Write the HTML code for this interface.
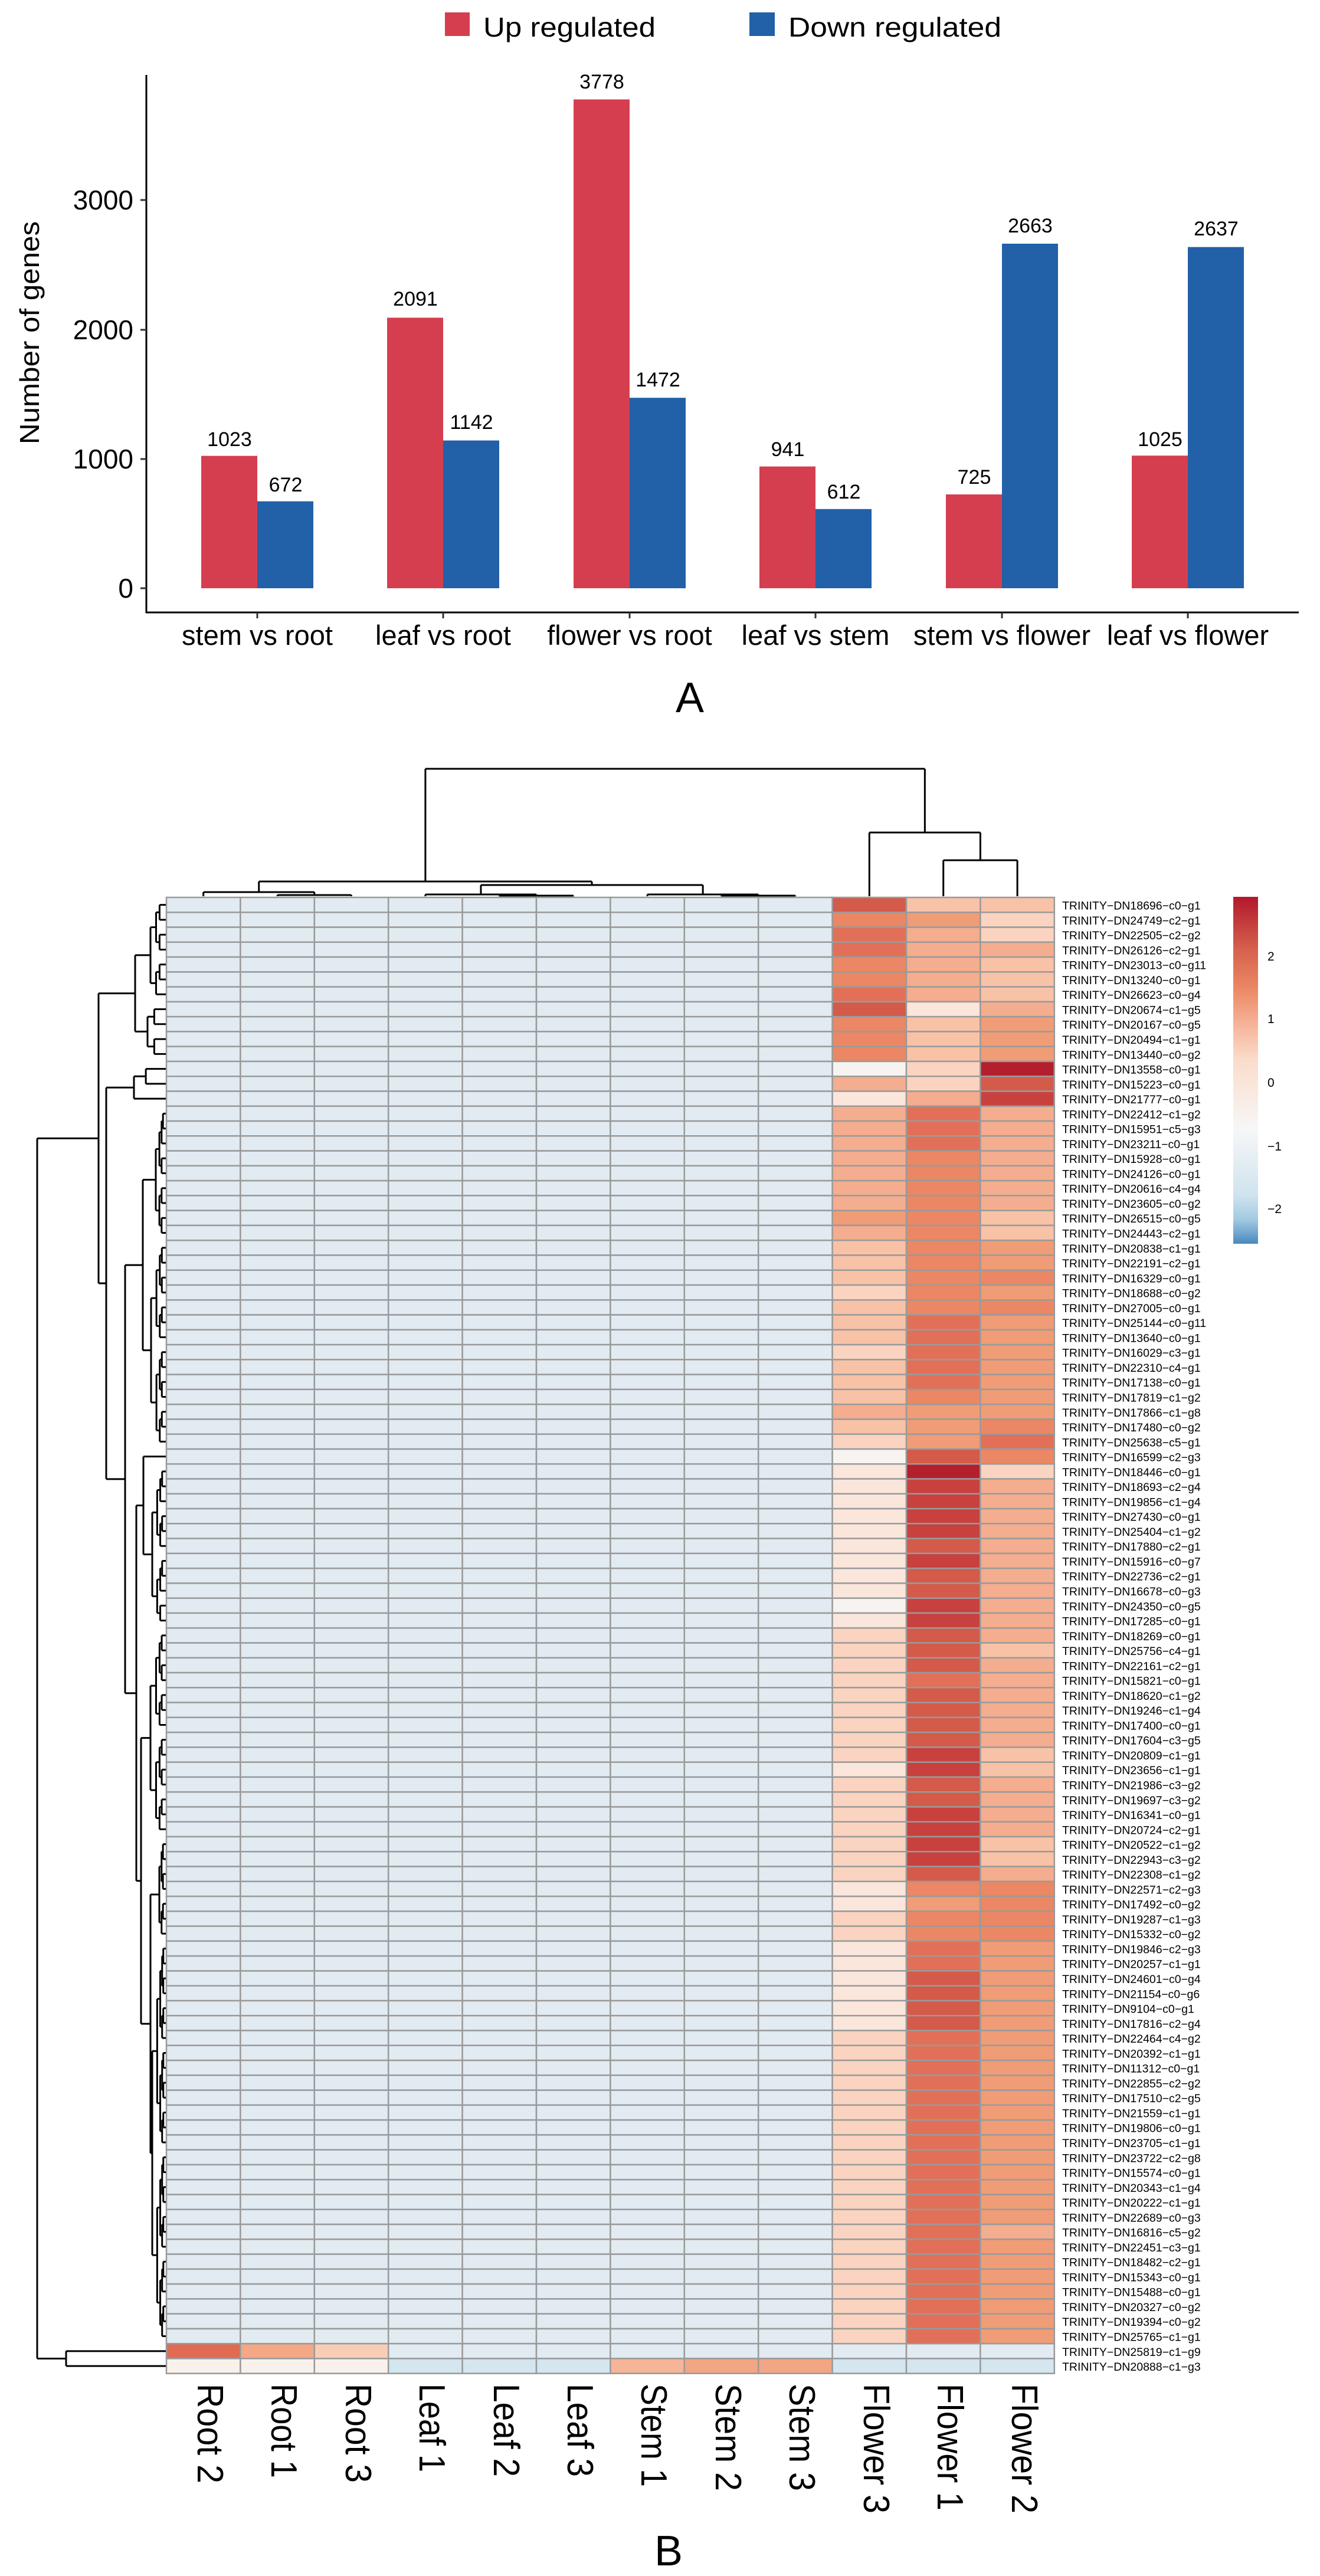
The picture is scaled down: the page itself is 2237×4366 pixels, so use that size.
<!DOCTYPE html>
<html><head><meta charset="utf-8"><style>
html,body{margin:0;padding:0;background:#fff;}
svg{display:block;font-family:"Liberation Sans",Arial,sans-serif;}
</style></head><body>
<svg id="s" width="2237" height="4366" viewBox="0 0 2237 4366" xmlns="http://www.w3.org/2000/svg">
<rect width="2237" height="4366" fill="#fff"/>
<!-- Legend -->
<rect x="754" y="21" width="42" height="40" fill="#D53E4F"/>
<text x="819" y="62" font-size="46" textLength="292" lengthAdjust="spacingAndGlyphs">Up regulated</text>
<rect x="1270" y="21" width="43" height="40" fill="#2260A7"/>
<text x="1336" y="62" font-size="46" textLength="361" lengthAdjust="spacingAndGlyphs">Down regulated</text>
<!-- axes -->
<g stroke="#000" stroke-width="3" fill="none">
<line x1="248" y1="127" x2="248" y2="1039"/>
<line x1="247" y1="1038" x2="2201" y2="1038"/>
</g>
<g stroke="#333" stroke-width="3">
<line x1="238" y1="997" x2="248" y2="997"/><line x1="238" y1="778" x2="248" y2="778"/>
<line x1="238" y1="559" x2="248" y2="559"/><line x1="238" y1="339" x2="248" y2="339"/>
<line x1="436" y1="1038" x2="436" y2="1048"/><line x1="751" y1="1038" x2="751" y2="1048"/>
<line x1="1067" y1="1038" x2="1067" y2="1048"/><line x1="1382" y1="1038" x2="1382" y2="1048"/>
<line x1="1698" y1="1038" x2="1698" y2="1048"/><line x1="2013" y1="1038" x2="2013" y2="1048"/>
</g>
<g font-size="46" text-anchor="end">
<text x="226" y="1013">0</text><text x="226" y="794">1000</text><text x="226" y="575">2000</text><text x="226" y="355">3000</text>
</g>
<text transform="translate(66,564) rotate(-90)" font-size="46" text-anchor="middle" textLength="378" lengthAdjust="spacingAndGlyphs">Number of genes</text>
<g font-size="47" text-anchor="middle">
<text x="436" y="1093">stem vs root</text><text x="751" y="1093">leaf vs root</text><text x="1067" y="1093">flower vs root</text>
<text x="1382" y="1093">leaf vs stem</text><text x="1698" y="1093">stem vs flower</text><text x="2013" y="1093">leaf vs flower</text>
</g>
<g id="bars"></g>
<g font-size="34" text-anchor="middle" id="barlabels">
<text x="389" y="756">1023</text><text x="484" y="833">672</text>
<text x="704" y="518">2091</text><text x="799" y="727">1142</text>
<text x="1020" y="150">3778</text><text x="1115" y="655">1472</text>
<text x="1335" y="773">941</text><text x="1430" y="845">612</text>
<text x="1651" y="820">725</text><text x="1746" y="394">2663</text>
<text x="1966" y="756">1025</text><text x="2061" y="399">2637</text>
</g>
<text x="1169" y="1207" font-size="72" text-anchor="middle">A</text>

<!-- Heatmap -->
<g id="cells"></g>
<g id="dend" stroke="#000" stroke-width="3" fill="none"></g>
<defs>
<linearGradient id="cb" x1="0" y1="0" x2="0" y2="1">
<stop offset="0" stop-color="#B2182B"/>
<stop offset="0.15" stop-color="#D6604D"/>
<stop offset="0.27" stop-color="#EC8A66"/>
<stop offset="0.37" stop-color="#F6B49A"/>
<stop offset="0.47" stop-color="#FBDCCB"/>
<stop offset="0.67" stop-color="#F7F7F7"/>
<stop offset="0.86" stop-color="#CFE3EF"/>
<stop offset="0.93" stop-color="#A3CAE2"/>
<stop offset="1" stop-color="#4A88C0"/>
</linearGradient>
</defs>
<rect x="2090" y="1520" width="42" height="588" fill="url(#cb)"/>
<g font-size="21">
<text x="2148" y="1628">2</text><text x="2148" y="1734">1</text><text x="2148" y="1842">0</text>
<text x="2148" y="1950">−1</text><text x="2148" y="2056">−2</text>
</g>
<text font-size="19.5" y="1516.3">
<tspan x="1800" dy="25.27">TRINITY−DN18696−c0−g1</tspan>
<tspan x="1800" dy="25.27">TRINITY−DN24749−c2−g1</tspan>
<tspan x="1800" dy="25.27">TRINITY−DN22505−c2−g2</tspan>
<tspan x="1800" dy="25.27">TRINITY−DN26126−c2−g1</tspan>
<tspan x="1800" dy="25.27">TRINITY−DN23013−c0−g11</tspan>
<tspan x="1800" dy="25.27">TRINITY−DN13240−c0−g1</tspan>
<tspan x="1800" dy="25.27">TRINITY−DN26623−c0−g4</tspan>
<tspan x="1800" dy="25.27">TRINITY−DN20674−c1−g5</tspan>
<tspan x="1800" dy="25.27">TRINITY−DN20167−c0−g5</tspan>
<tspan x="1800" dy="25.27">TRINITY−DN20494−c1−g1</tspan>
<tspan x="1800" dy="25.27">TRINITY−DN13440−c0−g2</tspan>
<tspan x="1800" dy="25.27">TRINITY−DN13558−c0−g1</tspan>
<tspan x="1800" dy="25.27">TRINITY−DN15223−c0−g1</tspan>
<tspan x="1800" dy="25.27">TRINITY−DN21777−c0−g1</tspan>
<tspan x="1800" dy="25.27">TRINITY−DN22412−c1−g2</tspan>
<tspan x="1800" dy="25.27">TRINITY−DN15951−c5−g3</tspan>
<tspan x="1800" dy="25.27">TRINITY−DN23211−c0−g1</tspan>
<tspan x="1800" dy="25.27">TRINITY−DN15928−c0−g1</tspan>
<tspan x="1800" dy="25.27">TRINITY−DN24126−c0−g1</tspan>
<tspan x="1800" dy="25.27">TRINITY−DN20616−c4−g4</tspan>
<tspan x="1800" dy="25.27">TRINITY−DN23605−c0−g2</tspan>
<tspan x="1800" dy="25.27">TRINITY−DN26515−c0−g5</tspan>
<tspan x="1800" dy="25.27">TRINITY−DN24443−c2−g1</tspan>
<tspan x="1800" dy="25.27">TRINITY−DN20838−c1−g1</tspan>
<tspan x="1800" dy="25.27">TRINITY−DN22191−c2−g1</tspan>
<tspan x="1800" dy="25.27">TRINITY−DN16329−c0−g1</tspan>
<tspan x="1800" dy="25.27">TRINITY−DN18688−c0−g2</tspan>
<tspan x="1800" dy="25.27">TRINITY−DN27005−c0−g1</tspan>
<tspan x="1800" dy="25.27">TRINITY−DN25144−c0−g11</tspan>
<tspan x="1800" dy="25.27">TRINITY−DN13640−c0−g1</tspan>
<tspan x="1800" dy="25.27">TRINITY−DN16029−c3−g1</tspan>
<tspan x="1800" dy="25.27">TRINITY−DN22310−c4−g1</tspan>
<tspan x="1800" dy="25.27">TRINITY−DN17138−c0−g1</tspan>
<tspan x="1800" dy="25.27">TRINITY−DN17819−c1−g2</tspan>
<tspan x="1800" dy="25.27">TRINITY−DN17866−c1−g8</tspan>
<tspan x="1800" dy="25.27">TRINITY−DN17480−c0−g2</tspan>
<tspan x="1800" dy="25.27">TRINITY−DN25638−c5−g1</tspan>
<tspan x="1800" dy="25.27">TRINITY−DN16599−c2−g3</tspan>
<tspan x="1800" dy="25.27">TRINITY−DN18446−c0−g1</tspan>
<tspan x="1800" dy="25.27">TRINITY−DN18693−c2−g4</tspan>
<tspan x="1800" dy="25.27">TRINITY−DN19856−c1−g4</tspan>
<tspan x="1800" dy="25.27">TRINITY−DN27430−c0−g1</tspan>
<tspan x="1800" dy="25.27">TRINITY−DN25404−c1−g2</tspan>
<tspan x="1800" dy="25.27">TRINITY−DN17880−c2−g1</tspan>
<tspan x="1800" dy="25.27">TRINITY−DN15916−c0−g7</tspan>
<tspan x="1800" dy="25.27">TRINITY−DN22736−c2−g1</tspan>
<tspan x="1800" dy="25.27">TRINITY−DN16678−c0−g3</tspan>
<tspan x="1800" dy="25.27">TRINITY−DN24350−c0−g5</tspan>
<tspan x="1800" dy="25.27">TRINITY−DN17285−c0−g1</tspan>
<tspan x="1800" dy="25.27">TRINITY−DN18269−c0−g1</tspan>
<tspan x="1800" dy="25.27">TRINITY−DN25756−c4−g1</tspan>
<tspan x="1800" dy="25.27">TRINITY−DN22161−c2−g1</tspan>
<tspan x="1800" dy="25.27">TRINITY−DN15821−c0−g1</tspan>
<tspan x="1800" dy="25.27">TRINITY−DN18620−c1−g2</tspan>
<tspan x="1800" dy="25.27">TRINITY−DN19246−c1−g4</tspan>
<tspan x="1800" dy="25.27">TRINITY−DN17400−c0−g1</tspan>
<tspan x="1800" dy="25.27">TRINITY−DN17604−c3−g5</tspan>
<tspan x="1800" dy="25.27">TRINITY−DN20809−c1−g1</tspan>
<tspan x="1800" dy="25.27">TRINITY−DN23656−c1−g1</tspan>
<tspan x="1800" dy="25.27">TRINITY−DN21986−c3−g2</tspan>
<tspan x="1800" dy="25.27">TRINITY−DN19697−c3−g2</tspan>
<tspan x="1800" dy="25.27">TRINITY−DN16341−c0−g1</tspan>
<tspan x="1800" dy="25.27">TRINITY−DN20724−c2−g1</tspan>
<tspan x="1800" dy="25.27">TRINITY−DN20522−c1−g2</tspan>
<tspan x="1800" dy="25.27">TRINITY−DN22943−c3−g2</tspan>
<tspan x="1800" dy="25.27">TRINITY−DN22308−c1−g2</tspan>
<tspan x="1800" dy="25.27">TRINITY−DN22571−c2−g3</tspan>
<tspan x="1800" dy="25.27">TRINITY−DN17492−c0−g2</tspan>
<tspan x="1800" dy="25.27">TRINITY−DN19287−c1−g3</tspan>
<tspan x="1800" dy="25.27">TRINITY−DN15332−c0−g2</tspan>
<tspan x="1800" dy="25.27">TRINITY−DN19846−c2−g3</tspan>
<tspan x="1800" dy="25.27">TRINITY−DN20257−c1−g1</tspan>
<tspan x="1800" dy="25.27">TRINITY−DN24601−c0−g4</tspan>
<tspan x="1800" dy="25.27">TRINITY−DN21154−c0−g6</tspan>
<tspan x="1800" dy="25.27">TRINITY−DN9104−c0−g1</tspan>
<tspan x="1800" dy="25.27">TRINITY−DN17816−c2−g4</tspan>
<tspan x="1800" dy="25.27">TRINITY−DN22464−c4−g2</tspan>
<tspan x="1800" dy="25.27">TRINITY−DN20392−c1−g1</tspan>
<tspan x="1800" dy="25.27">TRINITY−DN11312−c0−g1</tspan>
<tspan x="1800" dy="25.27">TRINITY−DN22855−c2−g2</tspan>
<tspan x="1800" dy="25.27">TRINITY−DN17510−c2−g5</tspan>
<tspan x="1800" dy="25.27">TRINITY−DN21559−c1−g1</tspan>
<tspan x="1800" dy="25.27">TRINITY−DN19806−c0−g1</tspan>
<tspan x="1800" dy="25.27">TRINITY−DN23705−c1−g1</tspan>
<tspan x="1800" dy="25.27">TRINITY−DN23722−c2−g8</tspan>
<tspan x="1800" dy="25.27">TRINITY−DN15574−c0−g1</tspan>
<tspan x="1800" dy="25.27">TRINITY−DN20343−c1−g4</tspan>
<tspan x="1800" dy="25.27">TRINITY−DN20222−c1−g1</tspan>
<tspan x="1800" dy="25.27">TRINITY−DN22689−c0−g3</tspan>
<tspan x="1800" dy="25.27">TRINITY−DN16816−c5−g2</tspan>
<tspan x="1800" dy="25.27">TRINITY−DN22451−c3−g1</tspan>
<tspan x="1800" dy="25.27">TRINITY−DN18482−c2−g1</tspan>
<tspan x="1800" dy="25.27">TRINITY−DN15343−c0−g1</tspan>
<tspan x="1800" dy="25.27">TRINITY−DN15488−c0−g1</tspan>
<tspan x="1800" dy="25.27">TRINITY−DN20327−c0−g2</tspan>
<tspan x="1800" dy="25.27">TRINITY−DN19394−c0−g2</tspan>
<tspan x="1800" dy="25.27">TRINITY−DN25765−c1−g1</tspan>
<tspan x="1800" dy="25.27">TRINITY−DN25819−c1−g9</tspan>
<tspan x="1800" dy="25.27">TRINITY−DN20888−c1−g3</tspan>
</text>
<g font-size="62">
<text transform="translate(335,4040) rotate(90)" textLength="169" lengthAdjust="spacingAndGlyphs">Root 2</text>
<text transform="translate(460,4040) rotate(90)" textLength="160" lengthAdjust="spacingAndGlyphs">Root 1</text>
<text transform="translate(586,4040) rotate(90)" textLength="168" lengthAdjust="spacingAndGlyphs">Root 3</text>
<text transform="translate(711,4040) rotate(90)" textLength="150" lengthAdjust="spacingAndGlyphs">Leaf 1</text>
<text transform="translate(837,4040) rotate(90)" textLength="158" lengthAdjust="spacingAndGlyphs">Leaf 2</text>
<text transform="translate(962,4040) rotate(90)" textLength="158" lengthAdjust="spacingAndGlyphs">Leaf 3</text>
<text transform="translate(1087,4040) rotate(90)" textLength="175" lengthAdjust="spacingAndGlyphs">Stem 1</text>
<text transform="translate(1213,4040) rotate(90)" textLength="182" lengthAdjust="spacingAndGlyphs">Stem 2</text>
<text transform="translate(1338,4040) rotate(90)" textLength="182" lengthAdjust="spacingAndGlyphs">Stem 3</text>
<text transform="translate(1464,4040) rotate(90)" textLength="220" lengthAdjust="spacingAndGlyphs">Flower 3</text>
<text transform="translate(1589,4040) rotate(90)" textLength="215" lengthAdjust="spacingAndGlyphs">Flower 1</text>
<text transform="translate(1715,4040) rotate(90)" textLength="220" lengthAdjust="spacingAndGlyphs">Flower 2</text>
</g>
<text x="1133" y="4348" font-size="72" text-anchor="middle">B</text>
</svg>
<script>
(function(){
var NS="http://www.w3.org/2000/svg";
function el(p,t,a){var e=document.createElementNS(NS,t);for(var k in a)e.setAttribute(k,a[k]);p.appendChild(e);return e;}
var bars=document.getElementById("bars");
var up=[1023,2091,3778,941,725,1025],dn=[672,1142,1472,612,2663,2637];
var cen=[436,751,1067,1382,1698,2013],s=0.2193,y0=997;
for(var i=0;i<6;i++){
 el(bars,"rect",{x:cen[i]-95,y:y0-up[i]*s,width:95,height:up[i]*s,fill:"#D53E4F"});
 el(bars,"rect",{x:cen[i],y:y0-dn[i]*s,width:95,height:dn[i]*s,fill:"#2260A7"});
}
var L=282,CW=125.4,T=1521,RH=25.27,N=99;
var pal={"W":"#F6F3F1","0":"#FBE6DC","1":"#FAD4C0","2":"#F8C2A7","3":"#F4AD8E","4":"#F09C77","5":"#EB8764","6":"#E27058","7":"#D45A4A","8":"#C8413E","9":"#B41F2E"};
var fl=["722","541","631","633","532","532","632","703","524","524","524","W19","317","038","363","363","363","353","353","353","353","452","352","254","254","255","154","255","264","264","164","264","264","254","344","245","146","W75","091","083","083","083","083","073","083","073","073","W83","083","173","172","173","163","173","173","173","173","182","082","173","173","183","183","182","182","173","055","045","155","155","064","064","074","074","074","074"];
while(fl.length<97)fl.push("164");
fl[89]="163";
var cells=document.getElementById("cells");
for(var r=0;r<N;r++){
 for(var c=0;c<12;c++){
  var col="#E1EBF1";
  if(r<97){ if(c>=9) col=pal[fl[r][c-9]]; }
  else if(r==97){ col=[ "#E06B52","#F4A886","#F9CDB5"][c]||"#E1EBF1"; }
  else { col=c<3?"#F8F1EC":(c<6?"#D4E6F0":(c<9?["#F5B596","#F2A683","#F2A683"][c-6]:"#D4E6F0")); }
  el(cells,"rect",{x:L+c*CW,y:T+r*RH,width:CW,height:RH,fill:col,stroke:"#9A9A9A","stroke-width":2.5});
 }
}
var d=document.getElementById("dend");
function line(x1,y1,x2,y2){el(d,"line",{x1:x1,y1:y1,x2:x2,y2:y2});}
function cx(i){return L+CW*(i+0.5);}
function cn(xa,xb,y,ya,yb){line(xa,y,xb,y);line(xa,y,xa,ya);line(xb,y,xb,yb);}
var B=1519;
cn(cx(1),cx(2),1517,B,B);var r13=(cx(1)+cx(2))/2;
cn(cx(0),r13,1512,B,1517);var rr=(cx(0)+r13)/2;
cn(cx(4),cx(5),1518,B,B);var l23=(cx(4)+cx(5))/2;
cn(cx(3),l23,1516,B,1518);var ll=(cx(3)+l23)/2;
cn(cx(7),cx(8),1518,B,B);var s23=(cx(7)+cx(8))/2;
cn(cx(6),s23,1516,B,1518);var ss=(cx(6)+s23)/2;
cn(ll,ss,1500,1516,1516);var ls=(ll+ss)/2;
cn(rr,ls,1494,1512,1500);var left=(rr+ls)/2;
cn(cx(10),cx(11),1458,B,B);var f12=(cx(10)+cx(11))/2;
cn(cx(9),f12,1411,B,1458);var fl3=(cx(9)+f12)/2;
cn(left,fl3,1303,1494,1411);
function auto(a,b,x){if(a==b)return a;var m=Math.floor((a+b)/2);var nx=x+(280-x)*0.38;return [x,auto(a,m,nx),auto(m+1,b,nx)];}
var tree=[63,
 [167,
  [229,auto(0,6,255),auto(7,10,250)],
  [180,auto(11,13,227),
   [212,
    [242,auto(14,22,264),auto(23,36,256)],
    [231,
     [243,37,auto(38,48,258)],
     [239,auto(49,62,255),[255,auto(63,69,270),auto(70,96,258)]]
    ]
   ]
  ]
 ],
 [112,97,98]];
var LE=281;
function draw(n){
 if(typeof n==="number")return {x:LE,y:T+(n+0.5)*RH};
 var a=draw(n[1]),b=draw(n[2]),x=n[0];
 line(x,a.y,x,b.y);line(x,a.y,a.x,a.y);line(x,b.y,b.x,b.y);
 return {x:x,y:(a.y+b.y)/2};
}
draw(tree);
})();
</script>
</body></html>
